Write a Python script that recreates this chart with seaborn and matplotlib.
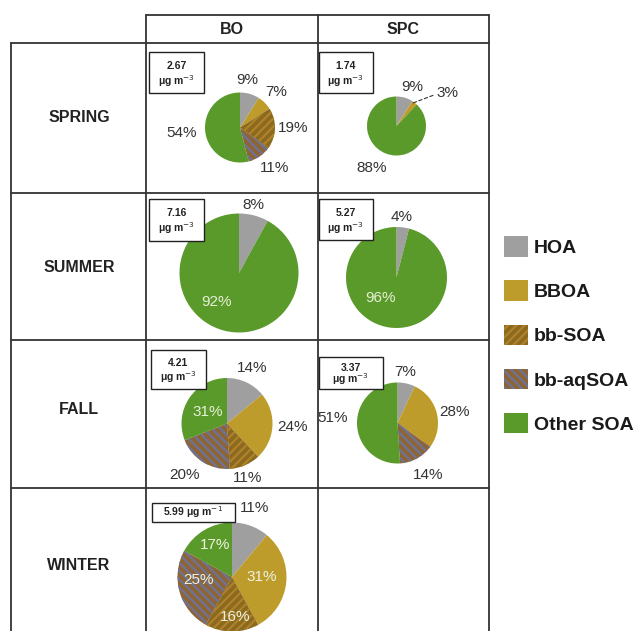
import matplotlib
matplotlib.use("Agg")
import matplotlib.pyplot as plt
from matplotlib.patches import Rectangle, Patch
import seaborn as sns

sns.set_theme(style="white")
plt.rcParams['font.family'] = ['Liberation Sans', 'DejaVu Sans']
plt.rcParams['hatch.linewidth'] = 1.6

# ---------------- data ----------------
components = ["HOA", "BBOA", "bb-SOA", "bb-aqSOA", "Other SOA"]
sites = ["BO", "SPC"]
seasons = ["SPRING", "SUMMER", "FALL", "WINTER"]

bo_spring = [9, 7, 19, 11, 54]
spc_spring = [9, 3, 0, 0, 88]
bo_summer = [8, 0, 0, 0, 92]
spc_summer = [4, 0, 0, 0, 96]
bo_fall = [14, 24, 11, 20, 31]
spc_fall = [7, 28, 0, 14, 51]
bo_winter = [11, 31, 16, 25, 17]

concentrations = {
    ("SPRING", "BO"): "2.67", ("SPRING", "SPC"): "1.74",
    ("SUMMER", "BO"): "7.16", ("SUMMER", "SPC"): "5.27",
    ("FALL", "BO"): "4.21", ("FALL", "SPC"): "3.37",
    ("WINTER", "BO"): "5.99",
}

# ---------------- styles ----------------
face = ["#a09fa0", "#bd9c2c", "#8a6a1e", "#8f6434", "#5a9a2a"]
hatch_col = [None, None, "#b0802a", "#6c7396", None]
hatches = [None, None, "////", "\\\\\\\\", None]

W, H = 643, 631
fig = plt.figure(figsize=(W / 100, H / 100), dpi=100)
ax = fig.add_axes([0, 0, 1, 1])

def Y(y):
    return H - y

DK = "#333333"
LT = "#e6efd6"
# layout: (values, center_x, center_y, radius, concentration box, labels)
cells = [
    (bo_spring, 240, 127.5, 35, (149, 52, 204, 93), "SPRING", "BO",
     [(247, 80, "9%", DK), (276, 92, "7%", DK), (293, 128, "19%", DK),
      (275, 168, "11%", DK), (182, 133, "54%", DK)]),
    (spc_spring, 396.5, 126, 29.5, (319, 52, 373, 93), "SPRING", "SPC",
     [(412, 87, "9%", DK), (447, 93, "3%", DK), (372, 168, "88%", DK)]),
    (bo_summer, 239, 273, 59.5, (149, 199, 204, 241), "SUMMER", "BO",
     [(253, 205, "8%", DK), (217, 302, "92%", LT)]),
    (spc_summer, 396.5, 277.5, 50.5, (319, 199, 373, 240), "SUMMER", "SPC",
     [(402, 217, "4%", DK), (381, 298, "96%", LT)]),
    (bo_fall, 227, 423.5, 45.5, (151, 350, 206, 389), "FALL", "BO",
     [(252, 368, "14%", DK), (292, 427, "24%", DK), (248, 478, "11%", DK),
      (185, 475, "20%", DK), (208, 412, "31%", LT)]),
    (spc_fall, 397.5, 423, 40.5, (319, 357, 383, 389), "FALL", "SPC",
     [(405, 372, "7%", DK), (455, 412, "28%", DK), (428, 475, "14%", DK),
      (333, 418, "51%", DK)]),
    (bo_winter, 232, 577, 54.5, (152, 503, 235, 522), "WINTER", "BO",
     [(255, 508, "11%", DK), (215, 545, "17%", "#eef3e0"), (262, 577, "31%", "#eef3e0"),
      (198, 580, "25%", "#eef3e0"), (235, 617, "16%", "#eef3e0")]),
]

for vals, cx, cy, r, box, season, site, labels in cells:
    wedges, _ = ax.pie(vals, colors=face, startangle=90, counterclock=False,
                       center=(cx, Y(cy)), radius=r, normalize=True,
                       wedgeprops=dict(linewidth=0))
    for i, w in enumerate(wedges):
        if hatches[i]:
            w.set_hatch(hatches[i])
            w.set_edgecolor(hatch_col[i])
            w.set_linewidth(0)
    for lx, ly, txt, col in labels:
        ax.text(lx, Y(ly), txt, ha="center", va="center", fontsize=11, color=col)
    x0, y0, x1, y1 = box
    ax.add_patch(Rectangle((x0, Y(y1)), x1 - x0, y1 - y0, facecolor="white",
                           edgecolor="#222222", linewidth=1.0, zorder=5))
    conc = concentrations[(season, site)]
    if season == "WINTER":
        ax.text((x0 + x1) / 2, Y((y0 + y1) / 2), conc + " μg m$^{-1}$", ha="center",
                va="center", fontsize=7.5, fontweight="bold", color="#222222", zorder=6)
    else:
        ax.text((x0 + x1) / 2, Y(y0 + (y1 - y0) * 0.33), conc, ha="center", va="center",
                fontsize=7.5, fontweight="bold", color="#222222", zorder=6)
        ax.text((x0 + x1) / 2, Y(y0 + (y1 - y0) * 0.7), "μg m$^{-3}$", ha="center",
                va="center", fontsize=7.5, fontweight="bold", color="#222222", zorder=6)

# leader line for 3% label
ax.plot([413, 434], [Y(103), Y(95)], color=DK, lw=0.8, ls="--")

# ---------------- table grid ----------------
gc = "#333333"
lw = 1.3
left, c1, c2, c3 = 11, 146, 318, 489
top, hb = 15, 43
rows = [193, 340, 488]
ax.plot([c1, c3], [Y(top), Y(top)], color=gc, lw=lw)
for yy in [hb] + rows:
    ax.plot([left, c3], [Y(yy), Y(yy)], color=gc, lw=lw)
ax.plot([left, left], [Y(hb), Y(H + 5)], color=gc, lw=lw)
for xx in (c1, c2, c3):
    ax.plot([xx, xx], [Y(top), Y(H + 5)], color=gc, lw=lw)

ax.text((c1 + c2) / 2, Y(30), "BO", ha="center", va="center", fontsize=11.5, fontweight="bold", color="#222222")
ax.text((c2 + c3) / 2, Y(30), "SPC", ha="center", va="center", fontsize=11.5, fontweight="bold", color="#222222")
for s, yy in zip(seasons, [117, 267, 410, 565]):
    ax.text(79, Y(yy), s, ha="center", va="center", fontsize=11.5, fontweight="bold", color="#222222")

# ---------------- legend ----------------
handles = []
for i, c in enumerate(components):
    handles.append(Patch(facecolor=face[i], edgecolor=hatch_col[i] if hatch_col[i] else face[i],
                         hatch=hatches[i], linewidth=0, label=c))
leg = fig.legend(handles=handles, loc="center left", bbox_to_anchor=(504 / W, 1 - 335 / H),
                 frameon=False, handlelength=1.25, handleheight=1.25, handletextpad=0.3,
                 labelspacing=1.2, borderaxespad=0, borderpad=0,
                 prop=dict(weight="bold", size=14))
for t in leg.get_texts():
    t.set_color("#1a1a1a")

ax.set_xlim(0, W)
ax.set_ylim(0, H)
ax.set_aspect("equal")
ax.axis("off")
fig.savefig("out.png", dpi=100, facecolor="white")
